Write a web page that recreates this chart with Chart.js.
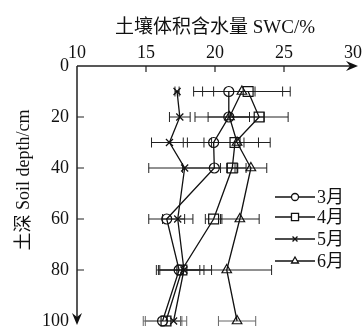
<!DOCTYPE html>
<html>
<head>
<meta charset="utf-8">
<script src="https://cdn.jsdelivr.net/npm/chart.js@4/dist/chart.umd.min.js"></script>
<style>
html,body{margin:0;padding:0;background:#fff;}
canvas{display:block;}
</style>
</head>
<body>
<canvas id="c" width="363" height="327"></canvas>
<script>
// ---- data ----
const depths = [10, 20, 30, 40, 60, 80, 100];
const seriesLabels = ['3月', '4月', '5月', '6月'];
const swcMar = [21.0, 21.0, 19.9, 19.95, 16.5, 17.4, 16.2];
const swcApr = [22.4, 23.2, 21.45, 21.25, 19.9, 17.6, 16.45];
const swcMay = [17.25, 17.45, 16.7, 17.8, 17.3, 17.75, 17.0];
const swcJun = [21.95, 21.05, 21.6, 22.6, 21.8, 20.85, 21.6];
const errMar = [1.9, 1.5, 2.2, 2.3, 1.3, 1.5, 1.4];
const errApr = [2.5, 2.1, 1.7, 0.4, 0.6, 1.6, 1.5];
const errMay = [0.15, 0.75, 1.3, 2.6, 1.1, 2.0, 0.5];
const errJun = [3.5, 2.5, 2.4, 1.15, 1.4, 3.25, 1.35];
const xTicks = [10, 15, 20, 25, 30];
const yTicks = [0, 20, 40, 60, 80, 100];
const xTitle = '土壤体积含水量 SWC/%';
const yTitle = '土深 Soil depth/cm';

const FONT = "'Liberation Serif', 'Noto Sans CJK SC', serif";
Chart.defaults.font.family = FONT;
const values = [swcMar, swcApr, swcMay, swcJun];
const errors = [errMar, errApr, errMay, errJun];
const styles = [
  {pointStyle: 'circle', radius: 5, legendRadius: 3.5},
  {pointStyle: 'rect', radius: 7, legendRadius: 5},
  {pointStyle: 'crossRot', radius: 5, legendRadius: 3.5},
  {pointStyle: 'triangle', radius: 5.5, legendRadius: 4}
];

const datasets = values.map((vals, i) => ({
  label: seriesLabels[i],
  data: vals.map((v, k) => ({x: v, y: depths[k]})),
  errs: errors[i],
  showLine: true,
  borderColor: '#111',
  borderWidth: 1.3,
  pointStyle: styles[i].pointStyle,
  pointRadius: styles[i].radius,
  pointBorderColor: '#111',
  pointBackgroundColor: 'rgba(0,0,0,0)',
  pointBorderWidth: 1.2,
  legendRadius: styles[i].legendRadius,
  clip: false
}));

const customPlugin = {
  id: 'custom',
  beforeDatasetsDraw(chart) {
    const ctx = chart.ctx;
    const xs = chart.scales.x, ys = chart.scales.y;
    ctx.save();
    // error bars
    ctx.lineWidth = 1;
    chart.data.datasets.forEach(ds => {
      ds.data.forEach((p, k) => {
        const e = ds.errs[k];
        const y = ys.getPixelForValue(p.y);
        const x1 = xs.getPixelForValue(p.x - e);
        const x2 = xs.getPixelForValue(p.x + e);
        ctx.strokeStyle = p.y === ys.max ? '#666' : '#222';
        ctx.beginPath();
        ctx.moveTo(x1, y); ctx.lineTo(x2, y);
        ctx.moveTo(x1, y - 5); ctx.lineTo(x1, y + 5);
        ctx.moveTo(x2, y - 5); ctx.lineTo(x2, y + 5);
        ctx.stroke();
      });
    });
    // axes with arrows
    const x0 = xs.getPixelForValue(xs.min);
    const y0 = ys.getPixelForValue(ys.min);
    const xEnd = xs.getPixelForValue(xs.max) + 5;
    const yEnd = ys.getPixelForValue(ys.max) + 4;
    ctx.strokeStyle = '#222';
    ctx.fillStyle = '#111';
    ctx.lineWidth = 1.5;
    ctx.beginPath();
    ctx.moveTo(x0, y0); ctx.lineTo(xEnd - 4, y0);
    ctx.moveTo(x0, y0); ctx.lineTo(x0, yEnd - 4);
    ctx.stroke();
    ctx.beginPath();
    ctx.moveTo(xEnd, y0); ctx.lineTo(xEnd - 12, y0 - 5); ctx.lineTo(xEnd - 8, y0); ctx.lineTo(xEnd - 12, y0 + 5); ctx.closePath();
    ctx.fill();
    ctx.beginPath();
    ctx.moveTo(x0, yEnd); ctx.lineTo(x0 - 5, yEnd - 12); ctx.lineTo(x0, yEnd - 8); ctx.lineTo(x0 + 5, yEnd - 12); ctx.closePath();
    ctx.fill();
    // inward tick marks
    ctx.lineWidth = 1.2;
    ctx.beginPath();
    xs.ticks.forEach(t => {
      if (t.value === xs.min || t.value === xs.max) return;
      const px = xs.getPixelForValue(t.value);
      ctx.moveTo(px, y0); ctx.lineTo(px, y0 + 6);
    });
    ys.ticks.forEach(t => {
      if (t.value === ys.min || t.value === ys.max) return;
      const py = ys.getPixelForValue(t.value);
      ctx.moveTo(x0, py); ctx.lineTo(x0 + 7, py);
    });
    ctx.stroke();
    ctx.restore();
  },
  afterDraw(chart) {
    const ctx = chart.ctx;
    ctx.save();
    // y title
    ctx.fillStyle = '#111';
    ctx.font = '18px ' + FONT;
    ctx.translate(24, 180);
    ctx.rotate(-Math.PI / 2);
    ctx.textAlign = 'center';
    ctx.textBaseline = 'middle';
    ctx.fillText(yTitle, 0, 0);
    ctx.restore();
    // legend
    ctx.save();
    const rows = [197, 217, 239, 261];
    chart.data.datasets.forEach((ds, i) => {
      const y = rows[i];
      ctx.strokeStyle = '#111';
      ctx.lineWidth = 1.3;
      ctx.beginPath();
      ctx.moveTo(275, y); ctx.lineTo(315, y);
      ctx.stroke();
      ctx.fillStyle = '#fff';
      Chart.helpers.drawPoint(ctx, {pointStyle: ds.pointStyle, radius: ds.legendRadius, borderWidth: 1.2}, 295, y);
      ctx.fillStyle = '#111';
      ctx.font = '18px ' + FONT;
      ctx.textAlign = 'left';
      ctx.textBaseline = 'middle';
      ctx.fillText(ds.label, 317, y + 1);
    });
    ctx.restore();
  }
};

new Chart(document.getElementById('c'), {
  type: 'scatter',
  data: {datasets},
  plugins: [customPlugin],
  options: {
    responsive: false,
    animation: false,
    layout: {autoPadding: false, padding: {top: 0, left: 0, right: 10, bottom: 6}},
    plugins: {legend: {display: false}, tooltip: {enabled: false}},
    scales: {
      x: {
        type: 'linear', position: 'top', min: 10, max: 30,
        afterBuildTicks: s => { s.ticks = xTicks.map(v => ({value: v})); },
        afterFit: s => { s.height = 66; s.paddingLeft = 0; s.paddingRight = 0; },
        grid: {display: false, drawTicks: false},
        border: {display: false},
        ticks: {color: '#111', font: {family: FONT, size: 18}, padding: 2, maxRotation: 0},
        title: {display: true, text: xTitle, color: '#111', font: {family: FONT, size: 19}, padding: {top: 17, bottom: 0}}
      },
      y: {
        type: 'linear', reverse: true, min: 0, max: 100,
        afterBuildTicks: s => { s.ticks = yTicks.map(v => ({value: v})); },
        afterFit: s => { s.width = 77; s.paddingTop = 0; s.paddingBottom = 0; },
        grid: {display: false, drawTicks: false},
        border: {display: false},
        ticks: {color: '#111', font: {family: FONT, size: 18}, padding: 8},
        title: {display: false}
      }
    }
  }
});
</script>
</body>
</html>
